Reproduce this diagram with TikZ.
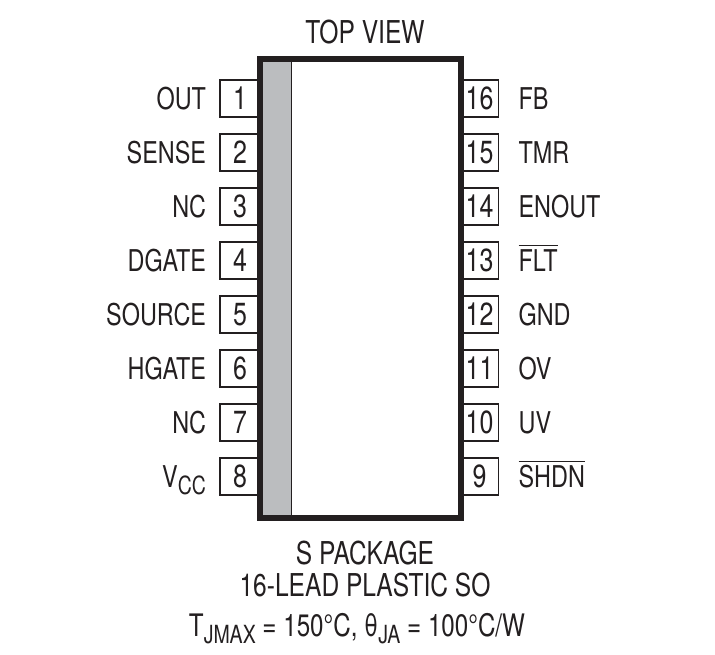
\documentclass[tikz,border=0pt]{standalone}
\usepackage{xcolor}
\usepackage{amsmath}
\usepackage{fontspec}
\usepackage{tikz}
\usetikzlibrary{positioning}
\setmainfont[FakeStretch=0.78]{TeX Gyre Heros}
\definecolor{inkblack}{HTML}{231F20}
\definecolor{stripgray}{HTML}{BBBDBF}
\newcommand{\subtext}[1]{\raisebox{-7pt}{\fontsize{25pt}{25pt}\selectfont #1}}
\newcommand{\barred}[1]{\(\overline{\hbox{#1}}\)}
\begin{document}
\begin{tikzpicture}[
		x=1pt,
		y=1pt,
		font=\fontsize{30pt}{32pt}\selectfont,
		text=inkblack
	]
		\tikzset{pinbox/.style={
			draw=inkblack,
			rectangle,
			line width=1.7,
			inner sep=0,
			outer sep=0,
			minimum height=36.8,
			font=\fontsize{32pt}{34pt}\selectfont,
		}}
		\tikzset{leftpin/.style={pinbox,minimum width=40.3}}
		\tikzset{rightpin/.style={pinbox,minimum width=38.1}}
		\tikzset{pinname/.style={
			inner sep=0,
			outer sep=0,
			text height=22,
			text depth=0,
		}}
		\tikzset{caption/.style={
			inner sep=0,
			outer sep=0,
			font=\fontsize{31.5pt}{33pt}\selectfont,
		}}

		\useasboundingbox (0,0) rectangle (715,655);

		\node[draw=inkblack,fill=stripgray,line width=1,inner sep=0,outer sep=0,minimum width=31.4,minimum height=459.3] (strip) at (276,366.7) {};
		\node[draw=inkblack,rectangle,line width=6,inner sep=0,outer sep=0,minimum width=200.2,minimum height=459.3,anchor=north west] (pkg) at (strip.north west) {};

		\node[leftpin,below left=21.3pt and 0pt of pkg.north west] (pin1) {1};
		\node[leftpin,below=17.2pt of pin1] (pin2) {2};
		\node[leftpin,below=17.2pt of pin2] (pin3) {3};
		\node[leftpin,below=17.2pt of pin3] (pin4) {4};
		\node[leftpin,below=17.2pt of pin4] (pin5) {5};
		\node[leftpin,below=17.2pt of pin5] (pin6) {6};
		\node[leftpin,below=17.2pt of pin6] (pin7) {7};
		\node[leftpin,below=17.2pt of pin7] (pin8) {8};

		\node[rightpin,below right=21.3pt and 0pt of pkg.north east] (pin16) {16};
		\node[rightpin,below=17.2pt of pin16] (pin15) {15};
		\node[rightpin,below=17.2pt of pin15] (pin14) {14};
		\node[rightpin,below=17.2pt of pin14] (pin13) {13};
		\node[rightpin,below=17.2pt of pin13] (pin12) {12};
		\node[rightpin,below=17.2pt of pin12] (pin11) {11};
		\node[rightpin,below=17.2pt of pin11] (pin10) {10};
		\node[rightpin,below=17.2pt of pin10] (pin9) {9};

		\node[pinname,left=14pt of pin1] (name1) {OUT};
		\node[pinname,left=14pt of pin2] (name2) {SENSE};
		\node[pinname,left=14pt of pin3] (name3) {NC};
		\node[pinname,left=14pt of pin4] (name4) {DGATE};
		\node[pinname,left=14pt of pin5] (name5) {SOURCE};
		\node[pinname,left=14pt of pin6] (name6) {HGATE};
		\node[pinname,left=14pt of pin7] (name7) {NC};
		\node[pinname,left=14pt of pin8] (name8) {V\subtext{CC}};

		\node[pinname,right=20pt of pin16] (name16) {FB};
		\node[pinname,right=20pt of pin15] (name15) {TMR};
		\node[pinname,right=20pt of pin14] (name14) {ENOUT};
		\node[pinname,right=20pt of pin13] (name13) {\barred{FLT}};
		\node[pinname,right=20pt of pin12] (name12) {GND};
		\node[pinname,right=20pt of pin11] (name11) {OV};
		\node[pinname,right=20pt of pin10] (name10) {UV};
		\node[pinname,right=20pt of pin9] (name9) {\barred{SHDN}};

		\node[caption] (topview) at (365,623) {TOP VIEW};
		\node[caption] (pkgname) at (365,102) {S PACKAGE};
		\node[caption] (leadname) at (365,70) {16-LEAD PLASTIC SO};
		\node[caption,font=\fontsize{31pt}{32pt}\selectfont] (thermal) at (357,26.5) {T\subtext{JMAX} = 150°C, θ\subtext{JA} = 100°C/W};
	\end{tikzpicture}
\end{document}
